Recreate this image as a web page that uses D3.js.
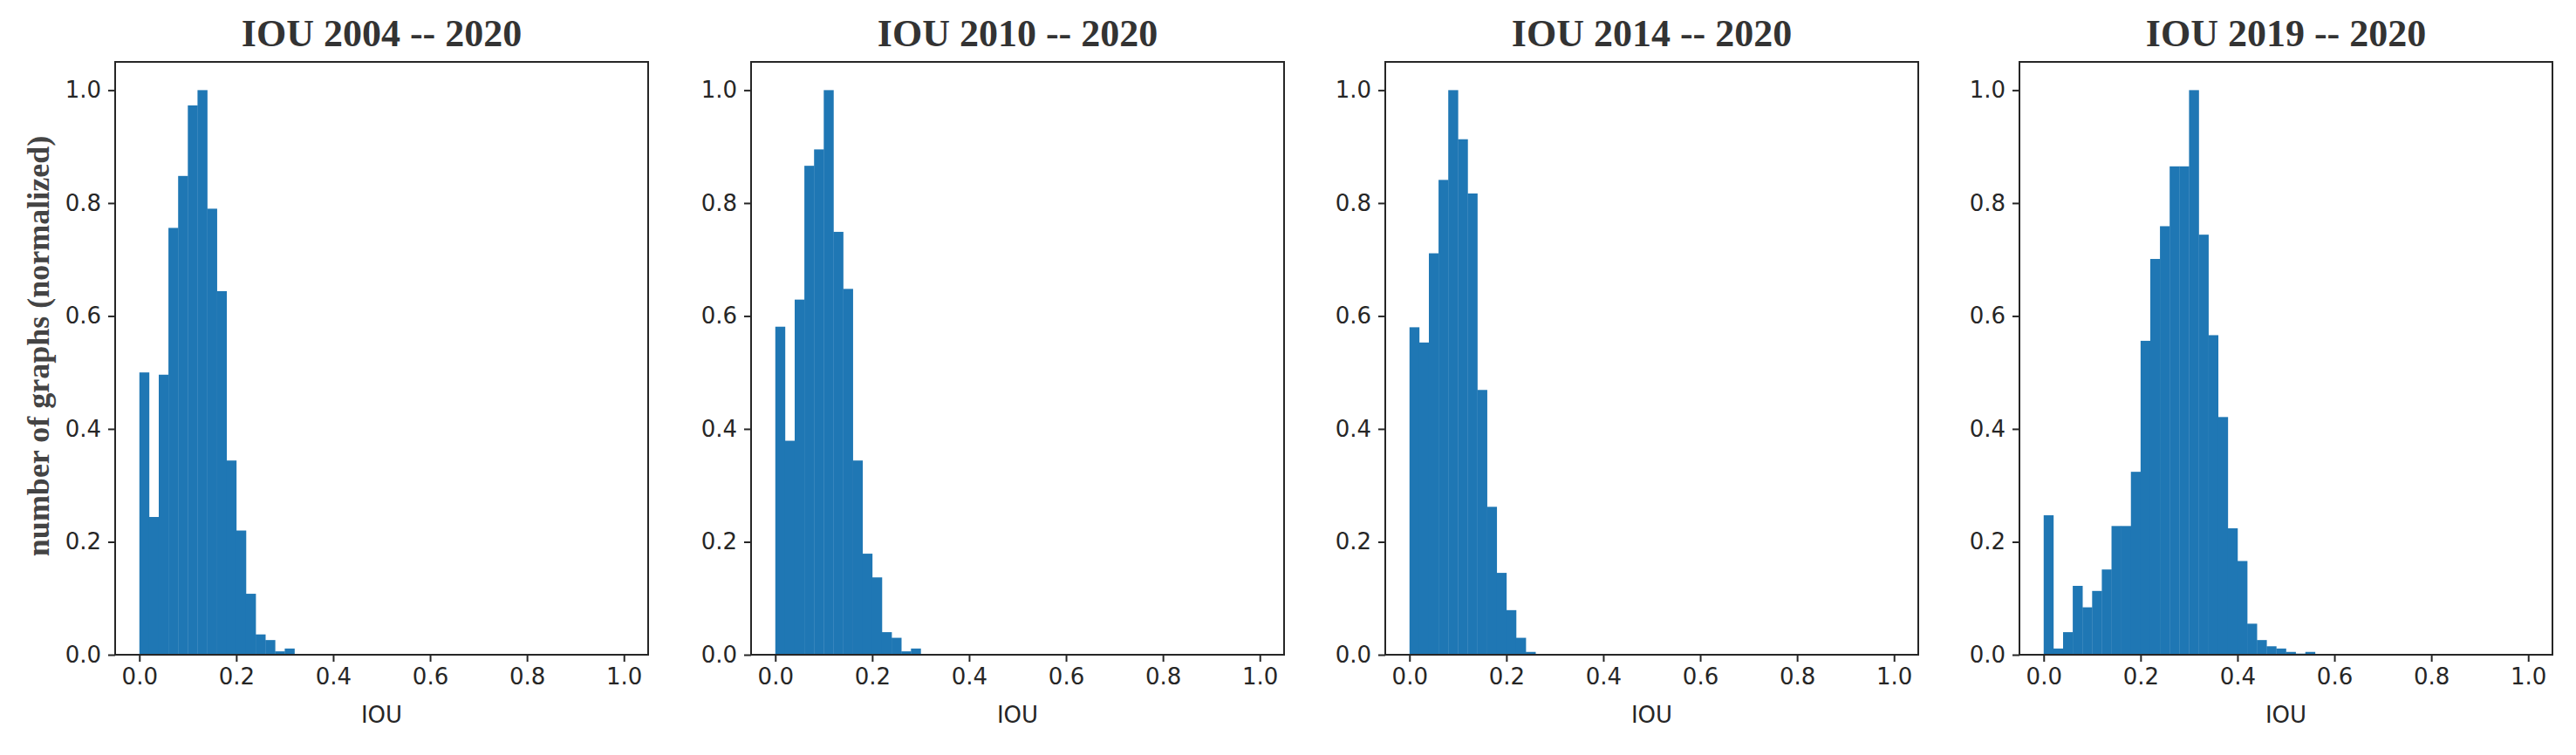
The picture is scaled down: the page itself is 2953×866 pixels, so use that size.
<!DOCTYPE html>
<html>
<head>
<meta charset="utf-8">
<script src="https://cdn.jsdelivr.net/npm/d3@7"></script>
<style>
  body { margin: 0; background: #fff; }
</style>
</head>
<body>
<div id="chart"></div>
<script>
// histogram heights per 0.02 IOU bin, starting at 0
var titles = ["IOU 2004 -- 2020", "IOU 2010 -- 2020", "IOU 2014 -- 2020", "IOU 2019 -- 2020"];
var binWidth = 0.02;
var hist2004 = [0.50, 0.244, 0.496, 0.756, 0.848, 0.973, 1.0, 0.79, 0.644, 0.344, 0.22, 0.108, 0.036, 0.026, 0.006, 0.011];
var hist2010 = [0.581, 0.379, 0.629, 0.866, 0.895, 1.0, 0.749, 0.648, 0.344, 0.179, 0.137, 0.040, 0.030, 0.006, 0.011];
var hist2014 = [0.58, 0.553, 0.711, 0.841, 1.0, 0.913, 0.817, 0.469, 0.262, 0.145, 0.079, 0.030, 0.005];
var hist2019 = [0.247, 0.011, 0.04, 0.122, 0.084, 0.113, 0.151, 0.228, 0.228, 0.324, 0.556, 0.701, 0.759, 0.865, 0.865, 1.0,
                0.744, 0.566, 0.421, 0.224, 0.166, 0.055, 0.026, 0.015, 0.011, 0.005, 0.002, 0.005];
var xTicks = [0, 0.2, 0.4, 0.6, 0.8, 1.0];
var yTicks = [0, 0.2, 0.4, 0.6, 0.8, 1.0];
var allHists = [hist2004, hist2010, hist2014, hist2019];

var W = 2953, H = 866;
var panelLeft = [132, 861, 1588, 2315];
var pw = 611, plotTop = 71, plotBottom = 751;
var ph = plotBottom - plotTop;

var svg = d3.select("#chart").append("svg")
	.attr("width", W)
	.attr("height", H);

var x = d3.scaleLinear().domain([-0.05, 1.05]).range([0, pw]);
var y = d3.scaleLinear().domain([0, 1.05]).range([ph, 0]);

allHists.forEach(function (hist, i) {
	var g = svg.append("g").attr("transform", "translate(" + panelLeft[i] + "," + plotTop + ")");

	g.selectAll("rect.bar")
		.data(hist)
		.enter()
		.append("rect")
		.attr("class", "bar")
		.attr("x", function (d, j) { return x(j * binWidth); })
		.attr("width", function (d, j) { return x((j + 1) * binWidth) - x(j * binWidth) + 0.3; })
		.attr("y", function (d) { return y(d); })
		.attr("height", function (d) { return y(0) - y(d); })
		.attr("fill", "#1f77b4");

	// frame
	g.append("rect")
		.attr("x", 0).attr("y", 0)
		.attr("width", pw).attr("height", ph)
		.attr("fill", "none")
		.attr("stroke", "#262626")
		.attr("stroke-width", 2);

	var xAxis = g.append("g")
		.attr("transform", "translate(0," + ph + ")")
		.call(d3.axisBottom(x).tickValues(xTicks).tickFormat(d3.format(".1f")).tickSize(8).tickPadding(8));
	var yAxis = g.append("g")
		.call(d3.axisLeft(y).tickValues(yTicks).tickFormat(d3.format(".1f")).tickSize(8).tickPadding(8));

	[xAxis, yAxis].forEach(function (a) {
		a.select(".domain").remove();
		a.selectAll("line").attr("stroke", "#262626").attr("stroke-width", 2);
		a.selectAll("text")
			.attr("font-family", "DejaVu Sans")
			.attr("font-size", "26px")
			.attr("fill", "#262626");
	});

	g.append("text")
		.attr("x", pw / 2)
		.attr("y", -18)
		.attr("text-anchor", "middle")
		.attr("font-family", "Liberation Serif")
		.attr("font-weight", "bold")
		.attr("font-size", "44px")
		.attr("fill", "#333")
		.text(titles[i]);

	g.append("text")
		.attr("x", pw / 2)
		.attr("y", 829 - plotTop)
		.attr("text-anchor", "middle")
		.attr("font-family", "DejaVu Sans")
		.attr("font-size", "26px")
		.attr("fill", "#262626")
		.text("IOU");
});

svg.append("text")
	.attr("transform", "translate(56,397) rotate(-90)")
	.attr("text-anchor", "middle")
	.attr("font-family", "Liberation Serif")
	.attr("font-weight", "bold")
	.attr("font-size", "36px")
	.attr("fill", "#444")
	.text("number of graphs (normalized)");
</script>
</body>
</html>
